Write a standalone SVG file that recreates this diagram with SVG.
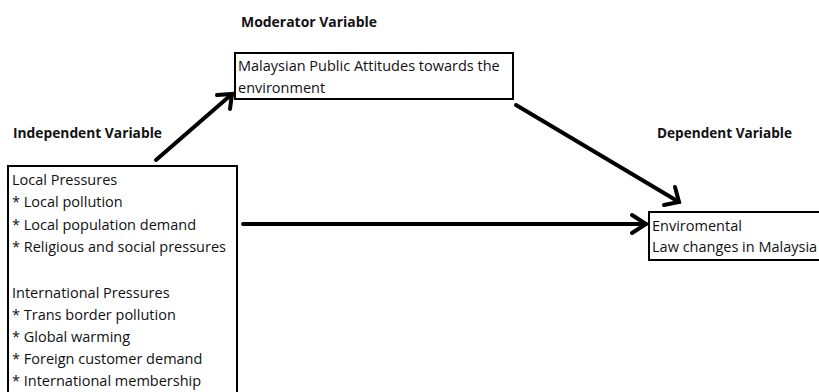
<svg xmlns="http://www.w3.org/2000/svg" width="819" height="392" viewBox="0 0 819 392">
<style>
.t{font-family:"Open Sans","Liberation Sans",sans-serif;font-size:14.5px;fill:#111}
.h{font-family:"Open Sans","Liberation Sans",sans-serif;font-size:13.5px;font-weight:bold;fill:#111}
.box{fill:#fff;stroke:#000;stroke-width:2}
.c{fill:none;stroke:#000;stroke-width:4;stroke-linecap:round;stroke-linejoin:miter}
</style>
<rect width="819" height="392" fill="#fff"/>
<text class="h" x="241" y="27" textLength="136" lengthAdjust="spacingAndGlyphs">Moderator  Variable</text>
<text class="h" x="13" y="138" textLength="149" lengthAdjust="spacingAndGlyphs">Independent Variable</text>
<text class="h" x="657" y="138" textLength="135" lengthAdjust="spacingAndGlyphs">Dependent Variable</text>
<g id="independent">
<rect class="box" x="8" y="166" width="229" height="240"/>
<text class="t" x="12" y="185">Local Pressures</text>
<text class="t" x="12" y="207">* Local pollution</text>
<text class="t" x="12" y="230">* Local population demand</text>
<text class="t" x="12" y="252">* Religious and social pressures</text>
<text class="t" x="12" y="298">International Pressures</text>
<text class="t" x="12" y="320">* Trans border pollution</text>
<text class="t" x="12" y="342">* Global warming</text>
<text class="t" x="12" y="364">* Foreign customer demand</text>
<text class="t" x="12" y="386">* International membership</text>
</g>
<g id="moderator">
<rect class="box" x="235" y="53" width="278" height="46"/>
<text class="t" x="238" y="71">Malaysian Public Attitudes towards the</text>
<text class="t" x="238" y="93">environment</text>
</g>
<g id="dependent">
<rect class="box" x="649" y="212" width="175" height="48"/>
<text class="t" x="652" y="231">Enviromental</text>
<text class="t" x="652" y="252">Law changes in Malaysia</text>
</g>
<g id="connectors">
<path class="c" d="M156,160 L232,94"/>
<path class="c" d="M217,95 L232,94 L230,109"/>
<path class="c" d="M243,224 L646,224"/>
<path class="c" d="M632,215 L646,224 L632,233"/>
<path class="c" d="M516,105 L679,202"/>
<path class="c" d="M675,187 L679,202 L664,205"/>
</g>
</svg>
